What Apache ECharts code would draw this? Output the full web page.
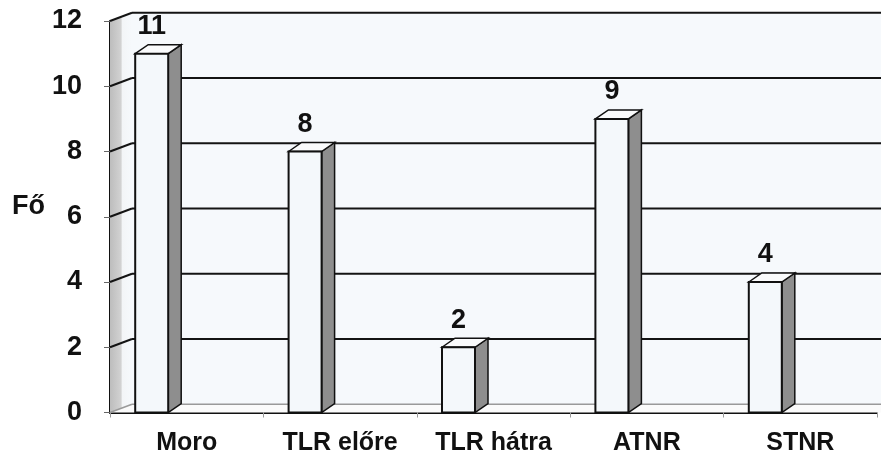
<!DOCTYPE html>
<html>
<head>
<meta charset="utf-8">
<script src="https://cdn.jsdelivr.net/npm/echarts@6/dist/echarts.min.js"></script>
<style>
html,body{margin:0;padding:0;background:#ffffff;}
#chart{width:881px;height:456px;}
</style>
</head>
<body>
<div id="chart"></div>
<script>
const categories = ['Moro', 'TLR előre', 'TLR hátra', 'ATNR', 'STNR'];
const values = [11, 8, 2, 9, 4];
const yTicks = [0, 2, 4, 6, 8, 10, 12];
const yAxisName = 'Fő';

const FONT = '"Liberation Sans", Arial, sans-serif';
const WALL_DX = 22, WALL_DY = -8.3;
const BAR_OFF = -51.5, BAR_W = 33, BAR_DX = 13, BAR_DY = -9;

const chart = echarts.init(document.getElementById('chart'));

function scaffold(params, api) {
  const tick = api.value(1);
  const p = api.coord([0, tick]);
  const cs = params.coordSys;
  const x0 = cs.x;
  const W = api.getWidth();
  const yb = api.coord([0, yTicks[0]])[1];
  const yt = api.coord([0, yTicks[yTicks.length - 1]])[1];
  const children = [];
  if (params.dataIndex === 0) {
    children.push({
      type: 'rect',
      shape: { x: x0 + WALL_DX, y: yt + WALL_DY, width: W - x0 - WALL_DX, height: yb - yt },
      style: { fill: '#f6f9fc' }
    });
    children.push({
      type: 'polygon',
      shape: { points: [[x0, yb], [x0, yt], [x0 + WALL_DX, yt + WALL_DY], [x0 + WALL_DX, yb + WALL_DY]] },
      style: {
        fill: new echarts.graphic.LinearGradient(0, 0, 1, 0, [
          { offset: 0, color: '#bdbdbd' },
          { offset: 0.5, color: '#d2d2d2' },
          { offset: 0.56, color: '#f3f5f7' },
          { offset: 1, color: '#f6f9fc' }
        ])
      }
    });
    children.push({
      type: 'polygon',
      shape: { points: [[x0, yb], [x0 + WALL_DX, yb + WALL_DY], [W, yb + WALL_DY], [W, yb]] },
      style: { fill: '#fbfbfb' }
    });
  }
  const isBase = tick === yTicks[0];
  const col = isBase ? '#9a9a9a' : '#141414';
  children.push({
    type: 'line',
    shape: { x1: x0 + WALL_DX, y1: p[1] + WALL_DY, x2: W, y2: p[1] + WALL_DY },
    style: { stroke: col, lineWidth: isBase ? 1.5 : 2 }
  });
  children.push({
    type: 'line',
    shape: { x1: x0, y1: p[1], x2: x0 + WALL_DX, y2: p[1] + WALL_DY },
    style: { stroke: col, lineWidth: isBase ? 1.5 : 2 }
  });
  return { type: 'group', children: children };
}

function bar3d(params, api) {
  const cat = api.value(0);
  const v = api.value(1);
  const top = api.coord([cat, v]);
  const base = api.coord([cat, 0]);
  const xL = top[0] + BAR_OFF;
  const xR = xL + BAR_W;
  const ty = top[1], by = base[1];
  return {
    type: 'group',
    children: [
      {
        type: 'polygon',
        shape: { points: [[xR, ty], [xR + BAR_DX, ty + BAR_DY], [xR + BAR_DX, by + BAR_DY], [xR, by]] },
        style: { fill: '#8e8e8e', stroke: '#111', lineWidth: 1.5 }
      },
      {
        type: 'polygon',
        shape: { points: [[xL, ty], [xL + BAR_DX, ty + BAR_DY], [xR + BAR_DX, ty + BAR_DY], [xR, ty]] },
        style: { fill: '#fafbfc', stroke: '#111', lineWidth: 1.5 }
      },
      {
        type: 'rect',
        shape: { x: xL, y: ty, width: BAR_W, height: by - ty },
        style: { fill: '#f4f8fb', stroke: '#111', lineWidth: 2 }
      },
      {
        type: 'text',
        style: {
          x: xL + BAR_W / 2, y: ty - 27,
          text: String(v),
          font: 'bold 27px ' + FONT,
          fill: '#111',
          align: 'center', verticalAlign: 'middle'
        }
      }
    ]
  };
}

chart.setOption({
  backgroundColor: '#ffffff',
  animation: false,
  grid: { left: 110, right: 4, top: 21, bottom: 43.5 },
  xAxis: {
    type: 'category',
    data: categories,
    axisLine: { show: true, lineStyle: { color: '#111', width: 2 } },
    axisTick: { show: true, length: 5, lineStyle: { color: '#999' } },
    axisLabel: { fontSize: 25, fontWeight: 'bold', color: '#111', fontFamily: FONT, margin: 18 },
    splitLine: { show: false }
  },
  yAxis: {
    type: 'value',
    min: 0, max: 12, interval: 2,
    axisLine: { show: true, lineStyle: { color: '#111', width: 2 } },
    axisTick: { show: true, length: 6, lineStyle: { color: '#666' } },
    axisLabel: { fontSize: 27, fontWeight: 'bold', color: '#111', fontFamily: FONT, margin: 28 },
    splitLine: { show: false }
  },
  graphic: [{
    type: 'text', left: 12, top: 193,
    style: { text: yAxisName, font: 'bold 27px ' + FONT, fill: '#111' }
  }],
  series: [
    {
      type: 'custom',
      renderItem: scaffold,
      data: yTicks.map(t => [0, t]),
      clip: false,
      silent: true,
      z: 1
    },
    {
      type: 'custom',
      renderItem: bar3d,
      data: values.map((v, i) => [i, v]),
      clip: false,
      z: 3
    }
  ]
});
</script>
</body>
</html>
